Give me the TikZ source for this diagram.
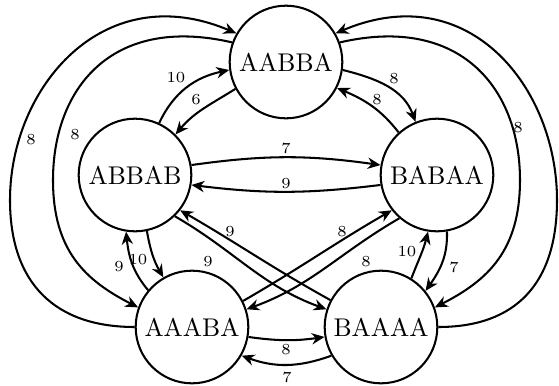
\documentclass[tikz,border=0pt]{standalone}
\usetikzlibrary{arrows.meta,calc}
\begin{document}
\begin{tikzpicture}[x=0.3906pt,y=0.3906pt,
  state/.style={circle,draw,line width=0.8pt,minimum size=44pt,inner sep=0pt},
  conn/.style={line width=0.8pt,-{Stealth[length=5pt,width=4.4pt,inset=1.6pt]}},
  lbl/.style={font=\fontsize{6}{7}\selectfont,inner sep=0pt}]
\useasboundingbox (0,0) rectangle (559,385);
% states
\node[state] (AABBA) at (286,323) {AABBA};
\node[state] (ABBAB) at (135,210) {ABBAB};
\node[state] (BABAA) at (437,210) {BABAA};
\node[state] (AAABA) at (192,58) {AAABA};
\node[state] (BAAAA) at (381,58) {BAAAA};
% turning points of the big arcs
\coordinate (oL) at (10,185);
\coordinate (iL) at (53,205);
\coordinate (iR) at (520,205);
\coordinate (oR) at (557,185);
% big arcs
\draw[conn] (AAABA.180) .. controls ($(AAABA.180)+(180:80)$) and ($(oL)+(270:83)$) .. (oL)
  .. controls ($(oL)+(90:112)$) and ($(AABBA.150)+(157:145)$) .. (AABBA.150);
\draw[conn] (AABBA.160) .. controls ($(AABBA.160)+(167:125)$) and ($(iL)+(90:90)$) .. (iL)
  .. controls ($(iL)+(270:70)$) and ($(AAABA.160)+(153:60)$) .. (AAABA.160);
\draw[conn] (AABBA.20) .. controls ($(AABBA.20)+(13:125)$) and ($(iR)+(90:90)$) .. (iR)
  .. controls ($(iR)+(270:70)$) and ($(BAAAA.20)+(27:60)$) .. (BAAAA.20);
\draw[conn] (BAAAA.0) .. controls ($(BAAAA.0)+(0:78)$) and ($(oR)+(270:83)$) .. (oR)
  .. controls ($(oR)+(90:112)$) and ($(AABBA.30)+(23:145)$) .. (AABBA.30);
% short edges
\draw[conn] (ABBAB.65) to[out=65,in=192] (AABBA.188);
\draw[conn] (AABBA.208) to[out=212,in=50] (ABBAB.45);
\draw[conn] (AABBA.352) to[out=-14,in=110] (BABAA.112);
\draw[conn] (BABAA.132) to[out=128,in=-23] (AABBA.333);
\draw[conn] (ABBAB.10) to[out=8,in=172] (BABAA.170);
\draw[conn] (BABAA.190) to[out=187,in=-7] (ABBAB.350);
\draw[conn] (ABBAB.282) to[out=280,in=120] (AAABA.120);
\draw[conn] (AAABA.140) to[out=130,in=276] (ABBAB.261);
\draw[conn] (BAAAA.152) to[out=151,in=-30] (ABBAB.322);
\draw[conn] (ABBAB.314) to[out=-30,in=160] (BAAAA.162);
\draw[conn] (AAABA.27) to[out=30,in=-150] (BABAA.218);
\draw[conn] (BABAA.229) to[out=-150,in=20] (AAABA.18);
\draw[conn] (BAAAA.58) to[out=69,in=256] (BABAA.261);
\draw[conn] (BABAA.280) to[out=272,in=55] (BAAAA.39);
\draw[conn] (AAABA.350) to[out=-8,in=188] (BAAAA.190);
\draw[conn] (BAAAA.210) to[out=200,in=-20] (AAABA.330);
% labels
\node[lbl] (l1) at (31,245) {8};
\node[lbl] (l2) at (75,250) {8};
\node[lbl] (l3) at (176,307) {10};
\node[lbl] (l4) at (196,285) {6};
\node[lbl] (l5) at (394,306) {8};
\node[lbl] (l6) at (377,285) {8};
\node[lbl] (l7) at (518,257) {8};
\node[lbl] (l9) at (286,237) {7};
\node[lbl] (l10) at (286,201) {9};
\node[lbl] (l11) at (138,125) {10};
\node[lbl] (l12) at (119,118) {9};
\node[lbl] (l13) at (230,153) {9};
\node[lbl] (l14) at (208,123) {9};
\node[lbl] (l15) at (342,153) {8};
\node[lbl] (l16) at (366,123) {8};
\node[lbl] (l17) at (407,133) {10};
\node[lbl] (l18) at (454,118) {7};
\node[lbl] (l19) at (286,35) {8};
\node[lbl] (l20) at (287,8) {7};
\end{tikzpicture}
\end{document}
